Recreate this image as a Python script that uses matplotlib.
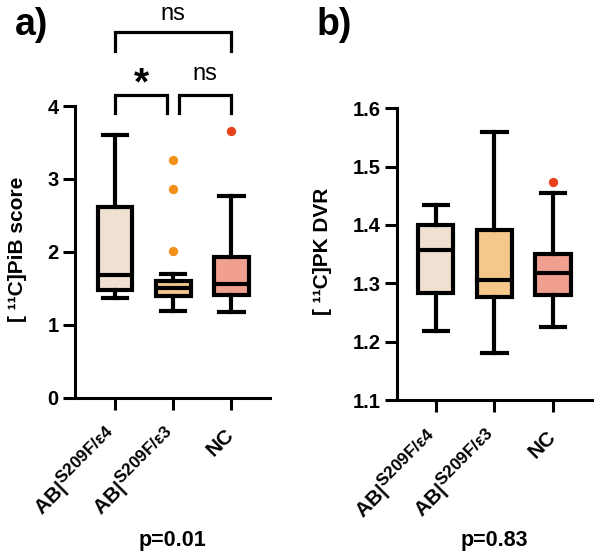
import numpy as np
import matplotlib
matplotlib.use("Agg")
import matplotlib.pyplot as plt
import matplotlib._mathtext as mt

# bigger superscripts, as in the reference labels
mt.SHRINK_FACTOR = 0.82

plt.rcParams['font.family'] = ['Liberation Sans', 'DejaVu Sans']
plt.rcParams['mathtext.fontset'] = 'custom'
plt.rcParams['mathtext.rm'] = 'Liberation Sans:bold'
plt.rcParams['mathtext.bf'] = 'Liberation Sans:bold'
plt.rcParams['mathtext.it'] = 'Liberation Sans:bold'

# data
groups = ['AB|$^{\\mathrm{S209F/ε4}}$', 'AB|$^{\\mathrm{S209F/ε3}}$', 'NC']
colors = ['#EFE0D2', '#F5C78B', '#F1A08F']
flier_colors = ['#F39019', '#F39019', '#E8421C']

# panel a: PiB score
pib_whislo = [1.37, 1.19, 1.18]
pib_q1 = [1.48, 1.40, 1.41]
pib_med = [1.68, 1.50, 1.56]
pib_q3 = [2.62, 1.60, 1.93]
pib_whishi = [3.60, 1.70, 2.77]
pib_fliers = [[], [3.26, 2.86, 2.01], [3.66]]

# panel b: PK DVR
pk_whislo = [1.218, 1.180, 1.225]
pk_q1 = [1.283, 1.277, 1.280]
pk_med = [1.357, 1.305, 1.317]
pk_q3 = [1.400, 1.392, 1.350]
pk_whishi = [1.435, 1.559, 1.455]
pk_fliers = [[], [], [1.474]]

pvals = ['p=0.01', 'p=0.83']

fig = plt.figure(figsize=(5.94, 5.55), dpi=100)
ax1 = fig.add_axes([0.126, 0.283, 0.329, 0.526])
ax2 = fig.add_axes([0.668, 0.279, 0.330, 0.526])


def draw_boxes(ax, lo, q1, med, q3, hi, fl):
    stats = []
    for i in range(3):
        stats.append(dict(whislo=lo[i], q1=q1[i], med=med[i], q3=q3[i],
                          whishi=hi[i], fliers=fl[i]))
    bp = ax.bxp(stats, positions=[1, 2, 3], widths=0.6, patch_artist=True,
                showfliers=False,
                boxprops=dict(linewidth=3, edgecolor='black'),
                medianprops=dict(linewidth=3, color='black'),
                whiskerprops=dict(linewidth=3, color='black'),
                capprops=dict(linewidth=3, color='black'),
                capwidths=0.42)
    for patch, c in zip(bp['boxes'], colors):
        patch.set_facecolor(c)
    for i in range(3):
        if fl[i]:
            ax.scatter([i + 1] * len(fl[i]), fl[i], s=45, color=flier_colors[i],
                       zorder=3, linewidths=0)


def style(ax):
    for s in ['top', 'right']:
        ax.spines[s].set_visible(False)
    for s in ['left', 'bottom']:
        ax.spines[s].set_linewidth(2.2)
    ax.tick_params(axis='y', length=8.5, width=2.2, labelsize=14.5, pad=3)
    ax.tick_params(axis='x', length=8.5, width=2.2, labelsize=15, pad=16)
    ax.set_xticks([1, 2, 3])
    ax.set_xticklabels(groups, rotation=45, ha='right', va='center',
                       rotation_mode='anchor', fontweight='bold')
    for lab in ax.get_yticklabels():
        lab.set_fontweight('bold')


draw_boxes(ax1, pib_whislo, pib_q1, pib_med, pib_q3, pib_whishi, pib_fliers)
ax1.set_ylim(0, 4)
ax1.set_xlim(0.31, 3.67)
ax1.set_yticks([0, 1, 2, 3, 4])
style(ax1)
ax1.set_ylabel('[ ¹¹C]PiB score', fontsize=15, fontweight='bold')
ax1.yaxis.set_label_coords(-0.246, 0.51)

draw_boxes(ax2, pk_whislo, pk_q1, pk_med, pk_q3, pk_whishi, pk_fliers)
ax2.set_ylim(1.1, 1.6)
ax2.set_xlim(0.333, 3.68)
ax2.set_yticks([1.1, 1.2, 1.3, 1.4, 1.5, 1.6])
style(ax2)
ax2.set_ylabel('[ ¹¹C]PK DVR', fontsize=15, fontweight='bold')
ax2.yaxis.set_label_coords(-0.33, 0.51)


# significance brackets on panel a
def bracket(ax, x0, x1, y, h, txt, size, weight, ty, va):
    ax.plot([x0, x0, x1, x1], [y - h, y, y, y - h], color='black', lw=2.3,
            clip_on=False, solid_joinstyle='miter')
    ax.text((x0 + x1) / 2, ty, txt, ha='center', va=va,
            fontsize=size, fontweight=weight)


bracket(ax1, 1, 3, 5.01, 0.25, 'ns', 17, 'normal', 5.18, 'baseline')
bracket(ax1, 1, 1.9, 4.15, 0.25, '*', 28, 'bold', 4.30, 'center')
bracket(ax1, 2.1, 3, 4.15, 0.25, 'ns', 17, 'normal', 4.36, 'baseline')

fig.text(0.291, 0.027, pvals[0], ha='center', va='center', fontsize=15.5,
         fontweight='bold')
fig.text(0.833, 0.027, pvals[1], ha='center', va='center', fontsize=15.5,
         fontweight='bold')

fig.text(0.025, 0.955, 'a)', fontsize=27, fontweight='bold', va='center')
fig.text(0.533, 0.955, 'b)', fontsize=27, fontweight='bold', va='center')

fig.savefig('out.png', dpi=100)
